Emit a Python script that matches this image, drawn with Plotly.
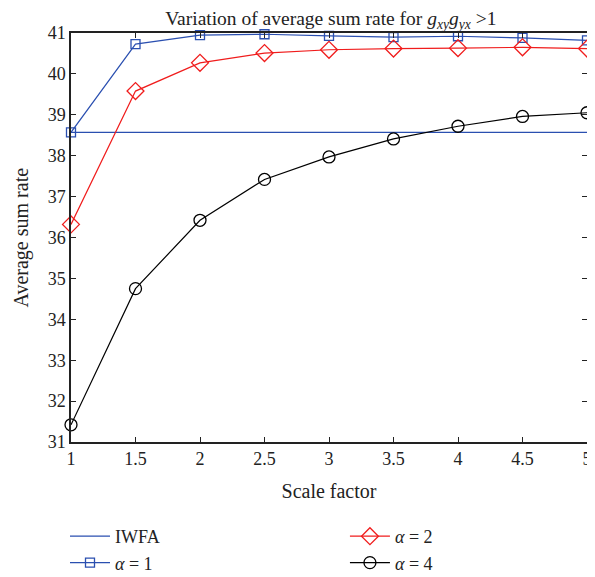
import plotly.graph_objects as go

scale = [1, 1.5, 2, 2.5, 3, 3.5, 4, 4.5, 5]
iwfa = [38.57] * 9
alpha1 = [38.57, 40.73, 40.95, 40.97, 40.93, 40.90, 40.92, 40.88, 40.82]
alpha2 = [36.32, 39.58, 40.27, 40.51, 40.59, 40.62, 40.63, 40.65, 40.62]
alpha4 = [31.42, 34.75, 36.42, 37.42, 37.97, 38.41, 38.72, 38.96, 39.05]
xticks = [1, 1.5, 2, 2.5, 3, 3.5, 4, 4.5, 5]
yticks = list(range(31, 42))

BLUE = "#2a4fb0"
RED = "#f01c1c"
FONT = "Liberation Serif"
TXT = "#222"

fig = go.Figure()
fig.add_trace(go.Scatter(x=scale, y=iwfa, mode="lines", name="IWFA",
                         line=dict(color=BLUE, width=1.2), legend="legend", cliponaxis=False))
fig.add_trace(go.Scatter(x=scale, y=alpha1, mode="lines+markers", name="<i>α</i> = 1",
                         line=dict(color=BLUE, width=1.2),
                         marker=dict(symbol="square-open", size=9, color=BLUE, line=dict(width=1.3)),
                         legend="legend", cliponaxis=False))
fig.add_trace(go.Scatter(x=scale, y=alpha2, mode="lines+markers", name="<i>α</i> = 2",
                         line=dict(color=RED, width=1.2),
                         marker=dict(symbol="diamond-open", size=13, color=RED, line=dict(width=1.3)),
                         legend="legend2", cliponaxis=False))
fig.add_trace(go.Scatter(x=scale, y=alpha4, mode="lines+markers", name="<i>α</i> = 4",
                         line=dict(color="black", width=1.2),
                         marker=dict(symbol="circle-open", size=12, color="black", line=dict(width=1.3)),
                         legend="legend2", cliponaxis=False))

axis_common = dict(showline=True, linecolor=TXT, linewidth=1.5, mirror="ticks",
                   ticks="inside", ticklen=5, tickcolor=TXT, tickwidth=1,
                   showgrid=False, zeroline=False,
                   ticklabeloverflow="allow",
                   tickfont=dict(family=FONT, size=18, color=TXT))

legend_common = dict(xref="container", yref="container", xanchor="left", yanchor="top",
                     orientation="v", font=dict(family=FONT, size=18, color=TXT),
                     bgcolor="rgba(0,0,0,0)", itemwidth=40, tracegroupgap=0)

# page body has an 8px margin, so the figure is 8px smaller than the window
fig.update_layout(
    width=587, height=569,
    margin=dict(l=63, r=8, t=25, b=135, autoexpand=False),
    paper_bgcolor="white", plot_bgcolor="white",
    font=dict(family=FONT, color=TXT),
    title=dict(text="Variation of average sum rate for <i>g<sub>xy</sub>g<sub>yx</sub></i> >1",
               x=0.550, xanchor="center", xref="container", y=0.982, yanchor="middle",
               font=dict(family=FONT, size=19.5, color=TXT)),
    xaxis=dict(range=[1, 5], tickvals=xticks, ticktext=[str(v) for v in xticks],
               title=dict(text="Scale factor", font=dict(family=FONT, size=20, color=TXT), standoff=16),
               **axis_common),
    yaxis=dict(range=[31, 41], tickvals=yticks, **axis_common),
    legend=dict(x=0.0971, y=0.1037, **legend_common),
    legend2=dict(x=0.574, y=0.1037, **legend_common),
    annotations=[dict(text="Average sum rate", textangle=-90, showarrow=False,
                      xref="paper", yref="paper", x=0, y=0.5, xanchor="center", yanchor="middle",
                      xshift=-50, font=dict(family=FONT, size=20, color=TXT))],
)

fig.write_html("out.html")
